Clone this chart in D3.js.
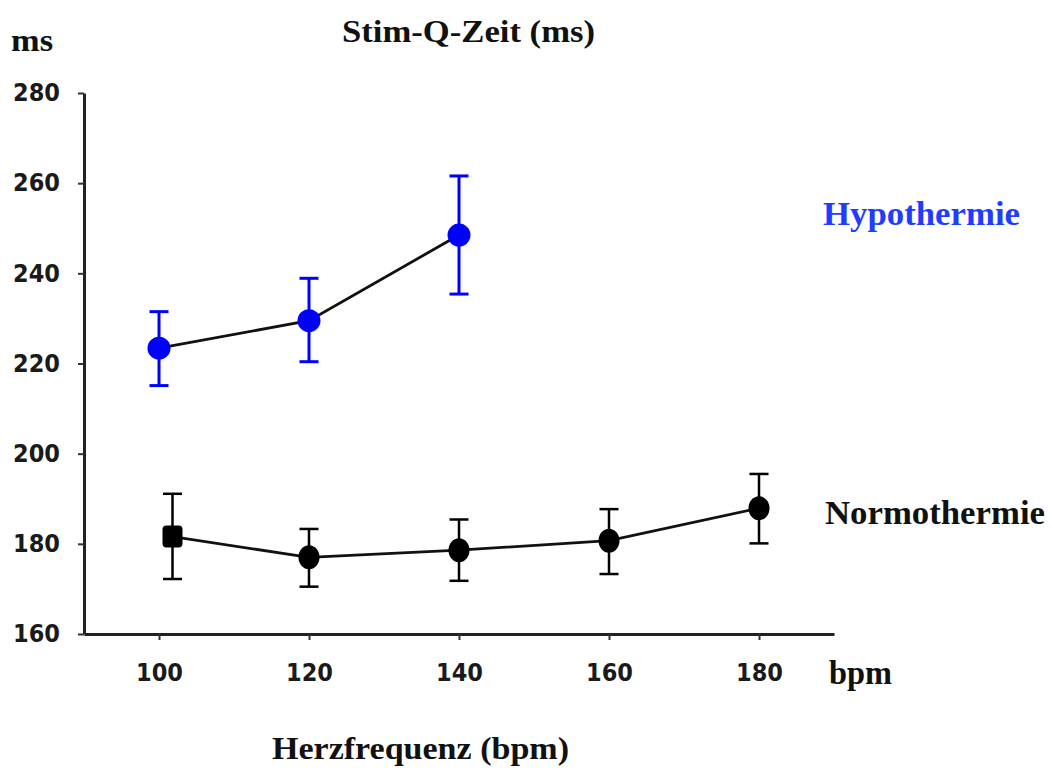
<!DOCTYPE html>
<html>
<head>
<meta charset="utf-8">
<script src="https://cdn.jsdelivr.net/npm/d3@7"></script>
<style>
  body { margin: 0; background: #fff; }
  svg { display: block; }
  .lbl { font-family: "Liberation Serif", "Times New Roman", serif; font-weight: bold; }
  .tick text { font-family: "DejaVu Sans", Verdana, sans-serif; font-weight: bold; font-size: 24px; fill: #1a1a1a; }
</style>
</head>
<body>
<svg id="chart" width="1051" height="769"></svg>
<script>
// heart rate (bpm) and Stim-Q time (ms)
var hypoX = [100, 120, 140];
var hypoY = [223.4, 229.5, 248.5];
var hypoHi = [231.5, 238.9, 261.6];
var hypoLo = [215.1, 220.4, 235.4];

var normoX = [101.8, 120, 140, 160, 180];
var normoY = [181.6, 177.0, 178.6, 180.7, 187.9];
var normoHi = [191.1, 183.3, 185.4, 187.7, 195.5];
var normoLo = [172.2, 170.5, 171.8, 173.3, 180.1];

var xTicks = [100, 120, 140, 160, 180];
var yTicks = [160, 180, 200, 220, 240, 260, 280];

var svg = d3.select("#chart");

var x = d3.scaleLinear().domain([90, 190]).range([84, 834]);
var y = d3.scaleLinear().domain([160, 280]).range([634, 93]);

// axes
var yAxis = svg.append("g")
    .attr("transform", "translate(84,0)")
    .call(d3.axisLeft(y).tickValues(yTicks).tickSize(6).tickPadding(18).tickSizeOuter(0));
var xAxis = svg.append("g")
    .attr("transform", "translate(0,634)")
    .call(d3.axisBottom(x).tickValues(xTicks).tickSize(6).tickPadding(24).tickSizeOuter(0));
[xAxis, yAxis].forEach(function (a) {
    a.select(".domain").attr("stroke", "#222").attr("stroke-width", 3);
    a.selectAll(".tick line").attr("stroke", "#333").attr("stroke-width", 2);
    a.selectAll(".tick text").attr("textLength", 47).attr("lengthAdjust", "spacingAndGlyphs");
});

function series(xs, ys, hi, lo, col, barW, round) {
    var pts = xs.map(function (v, i) { return { x: v, y: ys[i], hi: hi[i], lo: lo[i], i: i }; });
    var g = svg.append("g");

    g.append("path")
        .datum(pts)
        .attr("fill", "none")
        .attr("stroke", "#111")
        .attr("stroke-width", 2.8)
        .attr("d", d3.line().x(function (d) { return x(d.x); }).y(function (d) { return y(d.y); }));

    var eb = g.selectAll(".eb").data(pts).enter().append("g")
        .attr("stroke", col).attr("stroke-width", barW);
    eb.append("line")
        .attr("x1", function (d) { return x(d.x); }).attr("x2", function (d) { return x(d.x); })
        .attr("y1", function (d) { return y(d.hi); }).attr("y2", function (d) { return y(d.lo); });
    eb.append("line")
        .attr("x1", function (d) { return x(d.x) - 9.5; }).attr("x2", function (d) { return x(d.x) + 9.5; })
        .attr("y1", function (d) { return y(d.hi); }).attr("y2", function (d) { return y(d.hi); });
    eb.append("line")
        .attr("x1", function (d) { return x(d.x) - 9.5; }).attr("x2", function (d) { return x(d.x) + 9.5; })
        .attr("y1", function (d) { return y(d.lo); }).attr("y2", function (d) { return y(d.lo); });

    pts.forEach(function (d) {
        if (!round && d.i === 0) {
            g.append("rect")
                .attr("x", x(d.x) - 10).attr("y", y(d.y) - 11)
                .attr("width", 20).attr("height", 22).attr("rx", 4)
                .attr("fill", col);
        } else if (round) {
            g.append("circle")
                .attr("cx", x(d.x)).attr("cy", y(d.y)).attr("r", 11.5)
                .attr("fill", col);
        } else {
            g.append("ellipse")
                .attr("cx", x(d.x)).attr("cy", y(d.y)).attr("rx", 10.5).attr("ry", 12)
                .attr("fill", col);
        }
    });
}

series(hypoX, hypoY, hypoHi, hypoLo, "#0000ff", 3, true);
series(normoX, normoY, normoHi, normoLo, "#000", 2.5, false);

// labels
function label(txt, px, py, size, w, col) {
    svg.append("text")
        .attr("class", "lbl")
        .attr("x", px).attr("y", py)
        .attr("font-size", size)
        .attr("textLength", w)
        .attr("lengthAdjust", "spacingAndGlyphs")
        .attr("fill", col || "#111")
        .text(txt);
}

label("ms", 11, 51, 32, 42);
label("Stim-Q-Zeit (ms)", 342, 42, 32, 253);
label("Hypothermie", 823, 225, 33, 197, "#1f3cff");
label("Normothermie", 825, 524, 33, 220);
label("bpm", 829, 684, 33, 63);
label("Herzfrequenz (bpm)", 272, 759, 31, 297);
</script>
</body>
</html>
